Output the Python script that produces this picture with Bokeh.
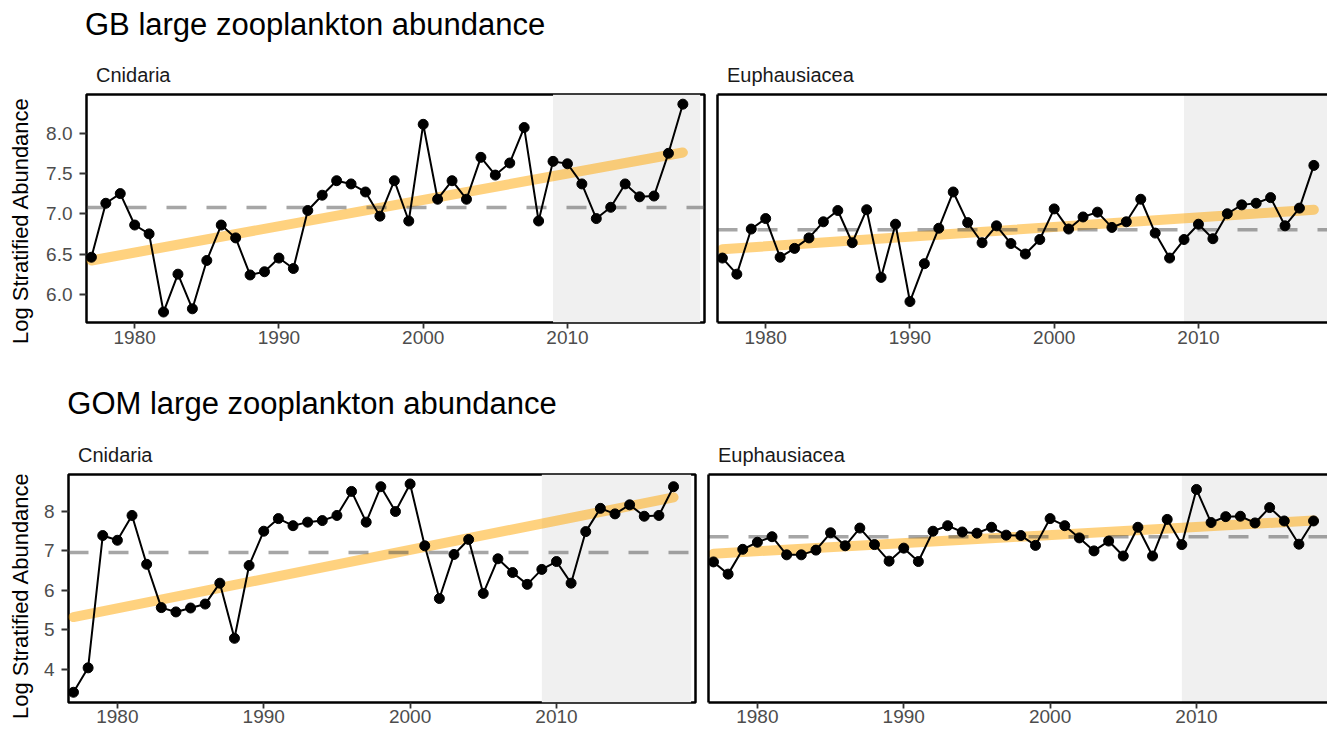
import math
from bokeh.plotting import figure
from bokeh.layouts import row, column
from bokeh.models import LinearAxis, FixedTicker, BoxAnnotation, Range1d
from bokeh.core.properties import value
from bokeh.embed import file_html
from bokeh.resources import INLINE

# ---------------- data ----------------
years = list(range(1977, 2019))

gb_cnidaria = [6.46, 7.13, 7.25, 6.86, 6.75, 5.78, 6.25, 5.82, 6.42, 6.86,
               6.70, 6.24, 6.28, 6.45, 6.32, 7.04, 7.23, 7.41, 7.37, 7.27,
               6.97, 7.41, 6.91, 8.11, 7.18, 7.41, 7.18, 7.70, 7.48, 7.63,
               8.07, 6.91, 7.65, 7.62, 7.37, 6.94, 7.08, 7.37, 7.21, 7.22,
               7.75, 8.36]
gb_euphausiacea = [6.45, 6.25, 6.81, 6.94, 6.46, 6.57, 6.70, 6.90, 7.04, 6.64,
                   7.05, 6.21, 6.87, 5.91, 6.38, 6.82, 7.27, 6.89, 6.64, 6.85,
                   6.63, 6.50, 6.68, 7.06, 6.81, 6.96, 7.02, 6.83, 6.90, 7.18,
                   6.76, 6.45, 6.68, 6.87, 6.69, 7.00, 7.11, 7.13, 7.20, 6.85,
                   7.07, 7.60]
gom_cnidaria = [3.41, 4.03, 7.39, 7.27, 7.90, 6.66, 5.56, 5.45, 5.55, 5.65,
                6.18, 4.78, 6.63, 7.50, 7.82, 7.64, 7.73, 7.77, 7.90, 8.51,
                7.73, 8.63, 8.00, 8.70, 7.13, 5.79, 6.91, 7.29, 5.92, 6.80,
                6.45, 6.15, 6.53, 6.73, 6.18, 7.49, 8.08, 7.94, 8.17, 7.88,
                7.90, 8.63]
gom_euphausiacea = [6.72, 6.41, 7.04, 7.22, 7.36, 6.90, 6.90, 7.02, 7.46, 7.13,
                    7.58, 7.16, 6.74, 7.07, 6.73, 7.50, 7.64, 7.48, 7.45, 7.60,
                    7.40, 7.39, 7.14, 7.82, 7.64, 7.33, 7.00, 7.25, 6.87, 7.60,
                    6.87, 7.80, 7.16, 8.56, 7.72, 7.87, 7.88, 7.71, 8.10, 7.76,
                    7.17, 7.76]

# long-term means (dashed lines)
gb_cnidaria_mean = 7.077
gb_euphausiacea_mean = 6.80
gom_cnidaria_mean = 6.962
gom_euphausiacea_mean = 7.359

# trend line end values (first year, last year)
trend_years = [1977, 2018]
gb_cnidaria_trend = [6.42, 7.76]
gb_euphausiacea_trend = [6.56, 7.05]
gom_cnidaria_trend = [5.32, 8.36]
gom_euphausiacea_trend = [6.93, 7.77]

# shaded recent period
shade_start = 2009
shade_end = 2019.2

x_ticks = [1980, 1990, 2000, 2010]
gb_y_ticks = [6.0, 6.5, 7.0, 7.5, 8.0]
gb_y_labels = ["6.0", "6.5", "7.0", "7.5", "8.0"]
gom_y_ticks = [4, 5, 6, 7, 8]
gom_y_labels = ["4", "5", "6", "7", "8"]

titles = ["GB large zooplankton abundance", "GOM large zooplankton abundance"]
taxa = ["Cnidaria", "Euphausiacea"]
y_title = "Log Stratified Abundance"

# ---------------- layout ----------------
X0, X1 = 1976.66, 2019.5
GB_Y = (5.65, 8.48)
GOM_Y = (3.15, 8.94)

FONT = "Liberation Sans"
TICK_COLOR = "#4D4D4D"
PAGE_W = 1327
BASELINE_SHIFT = 0.34  # em offset between anchor and drawn baseline


def style_xaxis(ax, line, standoff):
    ax.ticker = FixedTicker(ticks=x_ticks)
    ax.major_tick_out = 6
    ax.major_tick_in = 0
    ax.minor_tick_line_color = None
    ax.major_tick_line_color = "#333333"
    ax.major_tick_line_width = 1.8
    ax.major_label_text_font = FONT
    ax.major_label_text_font_size = "19px"
    ax.major_label_text_color = TICK_COLOR
    ax.major_label_standoff = standoff
    if line:
        ax.axis_line_color = "black"
        ax.axis_line_width = 2.5
    else:
        ax.axis_line_color = None


def panel(vals, mean, trend, yr, frame, canvas, left_w, left_panel, standoff,
          yticks=None, ylabels=None):
    # frame / canvas = (left, right, top, bottom) in page px
    fl, fr, ft, fb = frame
    cl, cr, ct, cb = canvas
    fw = fr - fl
    fh = fb - ft
    x_end = X1 if left_panel else X0 + fw * (X1 - X0) / left_w
    p = figure(frame_width=fw, frame_height=fh,
               min_border_left=fl - cl, min_border_right=cr - fr,
               min_border_top=ft - ct, min_border_bottom=cb - fb,
               x_range=Range1d(X0, x_end), y_range=Range1d(*yr),
               output_backend="svg", toolbar_location=None, tools="")
    p.xgrid.grid_line_color = None
    p.ygrid.grid_line_color = None
    p.background_fill_color = "white"
    p.border_fill_color = "white"

    p.add_layout(BoxAnnotation(left=shade_start, right=shade_end, fill_color="#F0F0F0",
                               fill_alpha=1.0, line_alpha=0, level="underlay"))
    p.line(trend_years, trend, line_color="orange", line_alpha=0.5, line_width=10,
           line_cap="round")
    p.line([X0, x_end], [mean, mean], line_color="#4D4D4D", line_alpha=0.5,
           line_width=3.5, line_dash="20 20")
    p.line(years, vals, line_color="black", line_width=2)
    p.scatter(years, vals, size=10, fill_color="black", line_color="black")

    style_xaxis(p.xaxis[0], not left_panel, standoff)
    ya = p.yaxis[0]
    if left_panel:
        p.outline_line_color = "black"
        p.outline_line_width = 2.5
        p.outline_line_alpha = 1.0
        ya.ticker = FixedTicker(ticks=yticks)
        ya.major_label_overrides = {t: l for t, l in zip(yticks, ylabels)}
        ya.major_tick_out = 7
        ya.major_tick_in = 0
        ya.minor_tick_line_color = None
        ya.major_tick_line_color = "#333333"
        ya.major_tick_line_width = 1.8
        ya.axis_line_color = None
        ya.major_label_text_font = FONT
        ya.major_label_text_font_size = "19px"
        ya.major_label_text_color = TICK_COLOR
        ya.major_label_standoff = 7
    else:
        p.outline_line_color = None
        ya.ticker = FixedTicker(ticks=[])
        ya.major_tick_line_color = None
        ya.minor_tick_line_color = None
        ya.major_label_standoff = 0
        ya.major_tick_out = 0
        ya.axis_line_color = "black"
        ya.axis_line_width = 2.5
        top = LinearAxis(ticker=FixedTicker(ticks=[]), axis_line_color="black",
                         axis_line_width=2.5, major_tick_line_color=None,
                         minor_tick_line_color=None, major_label_standoff=0,
                         major_tick_out=0, major_tick_in=0)
        p.add_layout(top, "above")
    return p


def text_fig(w, h, items):
    # items: (x, baseline_y_from_top, text, size_px, color, rotated, align)
    p = figure(frame_width=w, frame_height=h, min_border=0,
               x_range=Range1d(0, w), y_range=Range1d(0, h),
               x_axis_location=None, y_axis_location=None,
               output_backend="svg", toolbar_location=None, tools="")
    p.outline_line_color = None
    p.xgrid.grid_line_color = None
    p.ygrid.grid_line_color = None
    p.background_fill_color = "white"
    p.border_fill_color = "white"
    for x, y, t, size, color, rotated, align in items:
        shift = BASELINE_SHIFT * size
        if rotated:
            ax, ay, ang = x - shift, y, math.pi / 2
        else:
            ax, ay, ang = x, y - shift, 0
        p.text(x=[ax], y=[h - ay], text=[t], text_font=value(FONT),
               text_font_size=value(f"{size}px"), text_color=color, angle=ang,
               text_align=align, text_baseline="alphabetic")
    return p


# ---- row 1 (GB) ----
H1_TOP, H1_BOT = 0, 86
R1_TOP, R1_BOT = 86, 370
f1_frame = (86, 704, 94, 322); f1_canvas = (40, 710, R1_TOP, R1_BOT)
f2_frame = (717, PAGE_W, 94, 322); f2_canvas = (710, PAGE_W, R1_TOP, R1_BOT)

# ---- row 2 (GOM) ----
H2_TOP, H2_BOT = 370, 468
R2_TOP, R2_BOT = 468, 731
f3_frame = (68, 695, 474, 702); f3_canvas = (40, 702, R2_TOP, R2_BOT)
f4_frame = (708, PAGE_W, 474, 702); f4_canvas = (702, PAGE_W, R2_TOP, R2_BOT)

f1 = panel(gb_cnidaria, gb_cnidaria_mean, gb_cnidaria_trend, GB_Y, f1_frame, f1_canvas,
           618, True, 2, gb_y_ticks, gb_y_labels)
f2 = panel(gb_euphausiacea, gb_euphausiacea_mean, gb_euphausiacea_trend, GB_Y, f2_frame,
           f2_canvas, 618, False, 2)
f3 = panel(gom_cnidaria, gom_cnidaria_mean, gom_cnidaria_trend, GOM_Y, f3_frame, f3_canvas,
           627, True, 1, gom_y_ticks, gom_y_labels)
f4 = panel(gom_euphausiacea, gom_euphausiacea_mean, gom_euphausiacea_trend, GOM_Y, f4_frame,
           f4_canvas, 627, False, 1)

header1 = text_fig(PAGE_W, H1_BOT - H1_TOP, [
    (84.5, 35, titles[0], 31, "black", False, "left"),
    (95.5, 81, taxa[0], 20, "#1A1A1A", False, "left"),
    (726.5, 81, taxa[1], 20, "#1A1A1A", False, "left"),
])
header2 = text_fig(PAGE_W, H2_BOT - H2_TOP, [
    (66.8, 413.3 - H2_TOP, titles[1], 31, "black", False, "left"),
    (77.5, 461 - H2_TOP, taxa[0], 20, "#1A1A1A", False, "left"),
    (717.5, 461 - H2_TOP, taxa[1], 20, "#1A1A1A", False, "left"),
])
ylab1 = text_fig(40, R1_BOT - R1_TOP, [
    (27.5, 212 - R1_TOP, y_title, 22, "black", True, "center"),
])
ylab2 = text_fig(40, R2_BOT - R2_TOP, [
    (27.5, 589 - R2_TOP, y_title, 22, "black", True, "center"),
])

layout = column(header1, row(ylab1, f1, f2), header2, row(ylab2, f3, f4))
open("out.html", "w").write(file_html(layout, INLINE))
